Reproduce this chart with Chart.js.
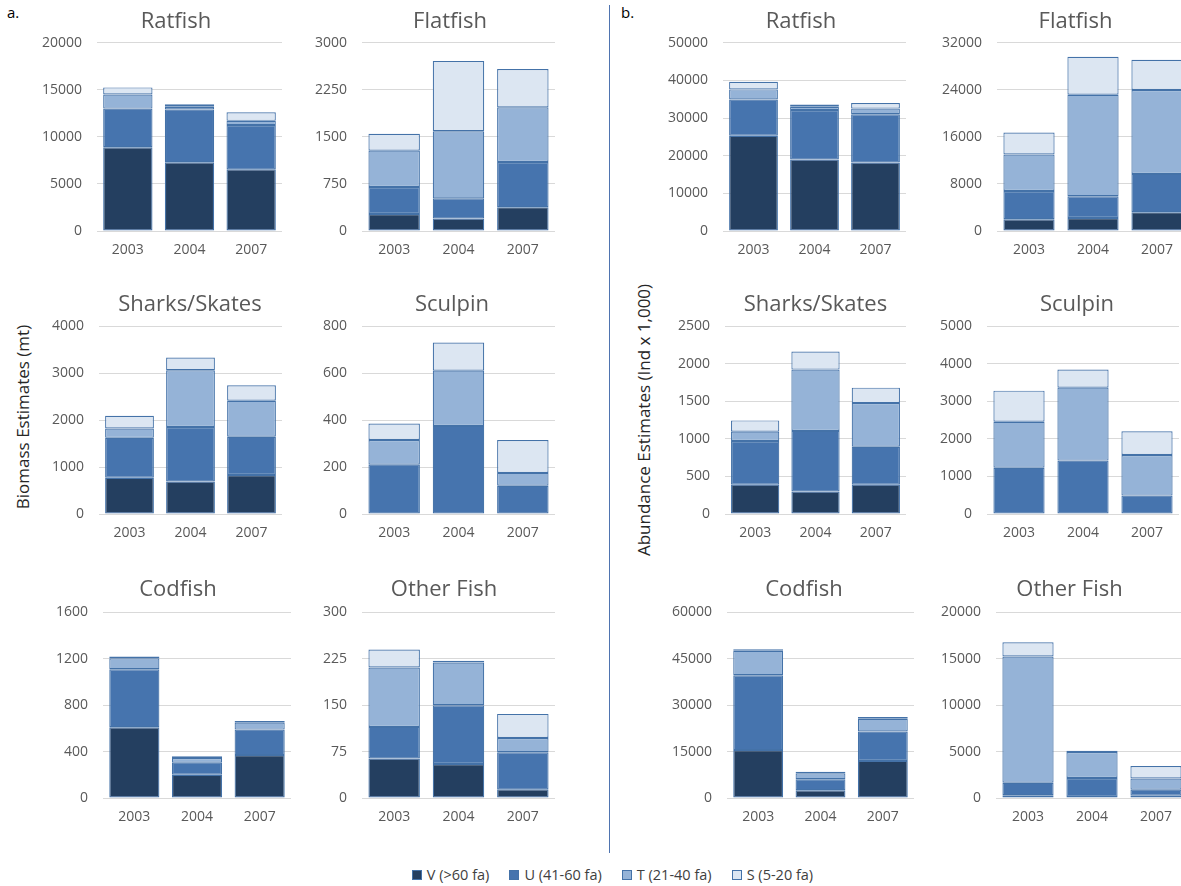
<!DOCTYPE html>
<html>
<head>
<meta charset="utf-8">
<script src="https://cdn.jsdelivr.net/npm/chart.js@4.4.1/dist/chart.umd.min.js"></script>
<style>
  html, body { margin:0; padding:0; background:#fff; }
  body { width:1181px; height:886px; overflow:hidden; position:relative; font-family:"Open Sans", sans-serif; }
  canvas { position:absolute; }
  .lbl { position:absolute; color:#000; font-size:15px; }
  .ytitle { position:absolute; color:#262626; font-size:17px; white-space:nowrap; transform:translate(-50%,-50%) rotate(-90deg); }
  .divider { position:absolute; left:609px; top:5px; width:1px; height:848px; background:#4f74b0; }
  .legend { position:absolute; top:865px; left:22px; width:1181px; display:flex; justify-content:center; font-size:14.5px; color:#404040; }
  .legend span.item { display:inline-flex; align-items:center; margin:0 10px; }
  .legend span.sw { display:inline-block; width:10px; height:10px; margin-right:5px; box-sizing:border-box; }
</style>
</head>
<body>
<div class="lbl" style="left:7px;top:2px;">a.</div>
<div class="lbl" style="left:621px;top:2px;">b.</div>
<div class="divider"></div>
<div class="ytitle" style="left:22px;top:417px;">Biomass Estimates (mt)</div>
<div class="ytitle" style="left:643px;top:420px;">Abundance Estimates (Ind x 1,000)</div>
<div class="legend" id="legend"></div>
<script>
// ---- DATA ----
const years = ['2003', '2004', '2007'];
const seriesNames = ['V (>60 fa)', 'U (41-60 fa)', 'T (21-40 fa)', 'S (5-20 fa)'];

// Biomass (mt): [V, U, T, S] per year
const ratfishBiomass  = [[8900, 7300, 6550], [4100, 5600, 4700], [1500, 300, 450], [750, 250, 900]];
const flatfishBiomass = [[270, 200, 380], [430, 320, 720], [580, 1070, 870], [270, 1120, 610]];
const sharksBiomass   = [[770, 690, 830], [850, 1160, 815], [200, 1210, 765], [270, 270, 330]];
const sculpinBiomass  = [[null, null, null], [210, 375, 120], [105, 235, 55], [70, 120, 140]];
const codfishBiomass  = [[610, 200, 370], [500, 105, 220], [95, 40, 60], [15, 15, 15]];
const otherBiomass    = [[64, 55, 14], [51, 95, 60], [96, 69, 23], [29, 3, 39]];

// Abundance (Ind x 1,000): [V, U, T, S] per year
const ratfishAbundance  = [[25300, 19000, 18200], [9600, 13100, 12800], [2700, 900, 1500], [2000, 600, 1500]];
const flatfishAbundance = [[2000, 2200, 3200], [4800, 3700, 6500], [6200, 17250, 14250], [3750, 6450, 5150]];
const sharksAbundance   = [[390, 300, 390], [580, 805, 505], [125, 815, 580], [150, 240, 205]];
const sculpinAbundance  = [[null, null, null], [1230, 1420, 490], [1225, 1940, 1080], [825, 480, 630]];
const codfishAbundance  = [[15500, 2500, 12000], [24200, 3600, 9500], [7900, 1900, 4100], [500, 500, 600]];
const otherAbundance    = [[300, 100, 250], [1350, 2050, 650], [13600, 2800, 1200], [1550, 150, 1350]];

// y-axis tick settings [max, step]
const ratfishBioTicks = [20000, 5000], flatfishBioTicks = [3000, 750], sharksBioTicks = [4000, 1000];
const sculpinBioTicks = [800, 200], codfishBioTicks = [1600, 400], otherBioTicks = [300, 75];
const ratfishAbuTicks = [50000, 10000], flatfishAbuTicks = [32000, 8000], sharksAbuTicks = [2500, 500];
const sculpinAbuTicks = [5000, 1000], codfishAbuTicks = [60000, 15000], otherAbuTicks = [20000, 5000];

// ---- STYLE / LAYOUT ----
const fills = ['#243f60', '#4674ae', '#95b3d7', '#dce6f2'];
const edge = '#4472a8';
const FONT = '"Open Sans", sans-serif';
const rows = [
  { top: 42.7, bottom: 230.7, titleY: 22 },
  { top: 326, bottom: 514, titleY: 305 },
  { top: 612.5, bottom: 797.5, titleY: 590 }
];
const panels = [
  { title: 'Ratfish', data: ratfishBiomass, ticks: ratfishBioTicks, row: 0, x0: 97, x1: 282, tx: 176 },
  { title: 'Flatfish', data: flatfishBiomass, ticks: flatfishBioTicks, row: 0, x0: 362, x1: 555, tx: 450 },
  { title: 'Sharks/Skates', data: sharksBiomass, ticks: sharksBioTicks, row: 1, x0: 99.3, x1: 282, tx: 190 },
  { title: 'Sculpin', data: sculpinBiomass, ticks: sculpinBioTicks, row: 1, x0: 362, x1: 555, tx: 452 },
  { title: 'Codfish', data: codfishBiomass, ticks: codfishBioTicks, row: 2, x0: 102.7, x1: 290.7, tx: 178 },
  { title: 'Other Fish', data: otherBiomass, ticks: otherBioTicks, row: 2, x0: 362, x1: 555, tx: 444 },
  { title: 'Ratfish', data: ratfishAbundance, ticks: ratfishAbuTicks, row: 0, x0: 722.7, x1: 906, tx: 801 },
  { title: 'Flatfish', data: flatfishAbundance, ticks: flatfishAbuTicks, row: 0, x0: 997, x1: 1189, tx: 1075.5 },
  { title: 'Sharks/Skates', data: sharksAbundance, ticks: sharksAbuTicks, row: 1, x0: 725, x1: 906, tx: 815.5 },
  { title: 'Sculpin', data: sculpinAbundance, ticks: sculpinAbuTicks, row: 1, x0: 987, x1: 1179, tx: 1077 },
  { title: 'Codfish', data: codfishAbundance, ticks: codfishAbuTicks, row: 2, x0: 727, x1: 914, tx: 804 },
  { title: 'Other Fish', data: otherAbundance, ticks: otherAbuTicks, row: 2, x0: 996, x1: 1188, tx: 1069.5 }
];

const YW = 70, XH = 32, TITLE_LH = 26.4;

panels.forEach(p => {
  const r = rows[p.row];
  const left = Math.round(p.x0 - YW);
  const canvasTop = Math.round(r.titleY - TITLE_LH / 2);
  const width = Math.round(2 * (p.tx - left));
  const padRight = Math.max(0, width - Math.round(p.x1 - left));
  const height = Math.round(r.bottom + XH - canvasTop);
  const padBottom = Math.max(0, r.top - canvasTop - TITLE_LH);
  const c = document.createElement('canvas');
  c.width = width; c.height = height;
  c.style.left = left + 'px'; c.style.top = canvasTop + 'px';
  c.style.width = width + 'px'; c.style.height = height + 'px';
  document.body.appendChild(c);
  new Chart(c, {
    type: 'bar',
    data: {
      labels: years,
      datasets: p.data.map((vals, i) => ({
        label: seriesNames[i],
        data: vals,
        yAxisID: 'y',
        backgroundColor: fills[i],
        borderColor: edge,
        borderWidth: 1.2,
        borderSkipped: false,
        barPercentage: 1.0,
        categoryPercentage: 0.8
      }))
    },
    options: {
      responsive: false,
      animation: false,
      devicePixelRatio: 1,
      layout: { padding: 0 },
      plugins: {
        legend: { display: false },
        tooltip: { enabled: false },
        title: {
          display: true, text: p.title, color: '#595959', fullSize: true,
          font: { family: FONT, size: 22, weight: 'normal', lineHeight: 1.2 },
          padding: { top: 0, bottom: padBottom }
        }
      },
      scales: {
        x: {
          stacked: true,
          grid: { display: false, drawTicks: false },
          border: { display: false },
          ticks: { color: '#595959', font: { family: FONT, size: 14 }, padding: 11, maxRotation: 0, autoSkip: false },
          afterFit: s => { s.height = XH; }
        },
        y: {
          stacked: true, min: 0, max: p.ticks[0],
          grid: { color: '#d9d9d9', lineWidth: 1, drawTicks: false },
          border: { display: false },
          ticks: { stepSize: p.ticks[1], color: '#595959', font: { family: FONT, size: 14 }, padding: 15,
                   callback: v => String(v) },
          afterFit: s => { s.width = YW; }
        },
        // empty spacer on the right so the title centres like the original
        yRight: {
          position: 'right', display: true, min: 0, max: 1,
          grid: { display: false, drawTicks: false },
          border: { display: false },
          ticks: { display: false },
          afterFit: s => { s.width = padRight; }
        }
      }
    }
  });
});

// legend
const lg = document.getElementById('legend');
seriesNames.forEach((n, i) => {
  const it = document.createElement('span'); it.className = 'item';
  const sw = document.createElement('span'); sw.className = 'sw';
  sw.style.background = fills[i]; sw.style.border = '1px solid ' + edge;
  it.appendChild(sw);
  it.appendChild(document.createTextNode(n));
  lg.appendChild(it);
});
</script>
</body>
</html>
